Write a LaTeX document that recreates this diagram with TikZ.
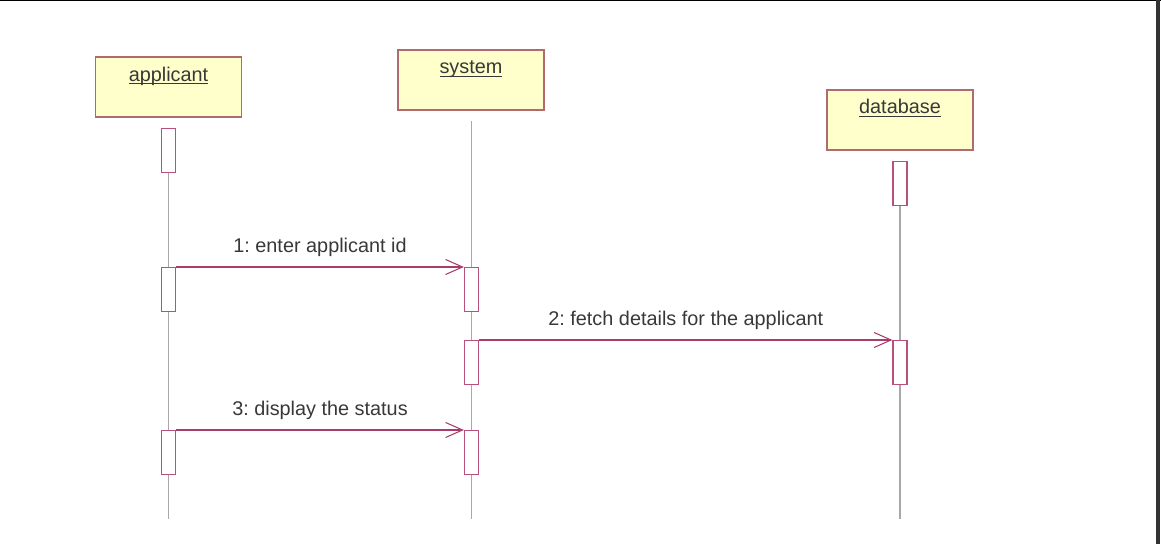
\documentclass[tikz,border=0pt]{standalone}
\usepackage{fontspec}
\setmainfont{Liberation Sans}
\frenchspacing
\usepackage{tikz}
\usetikzlibrary{arrows.meta, positioning}
\definecolor{headfill}{HTML}{FFFFCC}
\definecolor{headline}{HTML}{B06A70}
\definecolor{actline}{HTML}{B8507C}
\definecolor{msgline}{HTML}{A83C6C}
\definecolor{lifegray}{HTML}{A8A8A8}
\definecolor{txtgray}{HTML}{383838}
\tikzstyle{object} = [rectangle, draw=headline, line width=0.7pt, fill=headfill, inner sep=0pt, minimum width=2.92cm, text height=0.48cm, text depth=0.72cm, text=txtgray, font=\fontsize{11.3}{13.5}\selectfont]
\tikzstyle{activation} = [rectangle, draw=actline, line width=0.7pt, fill=white, inner sep=0pt, minimum width=0.28cm, minimum height=0.88cm, anchor=north]
\tikzstyle{lifeline} = [draw=lifegray, line width=0.6pt]
\tikzstyle{message} = [-{Straight Barb[length=0.34cm, width=0.3cm]}, draw=msgline, line width=0.6pt]
\tikzstyle{msglabel} = [midway, anchor=base, yshift=0.3cm, inner sep=0pt, text=txtgray, font=\fontsize{11.3}{13.5}\selectfont]

\begin{document}
\begin{tikzpicture}[x=0.02cm, y=-0.02cm]
\useasboundingbox (0,0) rectangle (1161,544);

% screen frame
\draw[black, line width=0.8pt] (0,0.5) -- (1161,0.5);
\draw[black!80, line width=0.09cm] (1158,0) -- (1158,544);

% objects
\node[object] (applicant) at (168.5,87) {\underbar{applicant}};
\node[object] (system) at (471,80) {\underbar{system}};
\node[object] (database) at (900,120) {\underbar{database}};

% lifelines
\coordinate (appTop) at (168.5,128);
\coordinate (appEnd) at (168.5,519);
\coordinate (sysTop) at (471.5,121);
\coordinate (sysEnd) at (471.5,519);
\coordinate (dbTop) at (900,161);
\coordinate (dbEnd) at (900,519);
\draw[lifeline] (appTop) -- (appEnd);
\draw[lifeline] (sysTop) -- (sysEnd);
\draw[lifeline] (dbTop) -- (dbEnd);

% activation boxes
\node[activation] (app1) at (168.5,128) {};
\node[activation] (app2) at (168.5,267) {};
\node[activation] (app3) at (168.5,430) {};
\node[activation] (sys1) at (471.5,267) {};
\node[activation] (sys2) at (471.5,340) {};
\node[activation] (sys3) at (471.5,430) {};
\node[activation] (db1) at (900,161) {};
\node[activation] (db2) at (900,340) {};

% messages
\draw[message] (app2.north east) -- node[msglabel] {1: enter applicant id} (sys1.north west);
\draw[message] (sys2.north east) -- node[msglabel] {2: fetch details for the applicant} (db2.north west);
\draw[message] (app3.north east) -- node[msglabel] {3: display the status} (sys3.north west);

\end{tikzpicture}
\end{document}
